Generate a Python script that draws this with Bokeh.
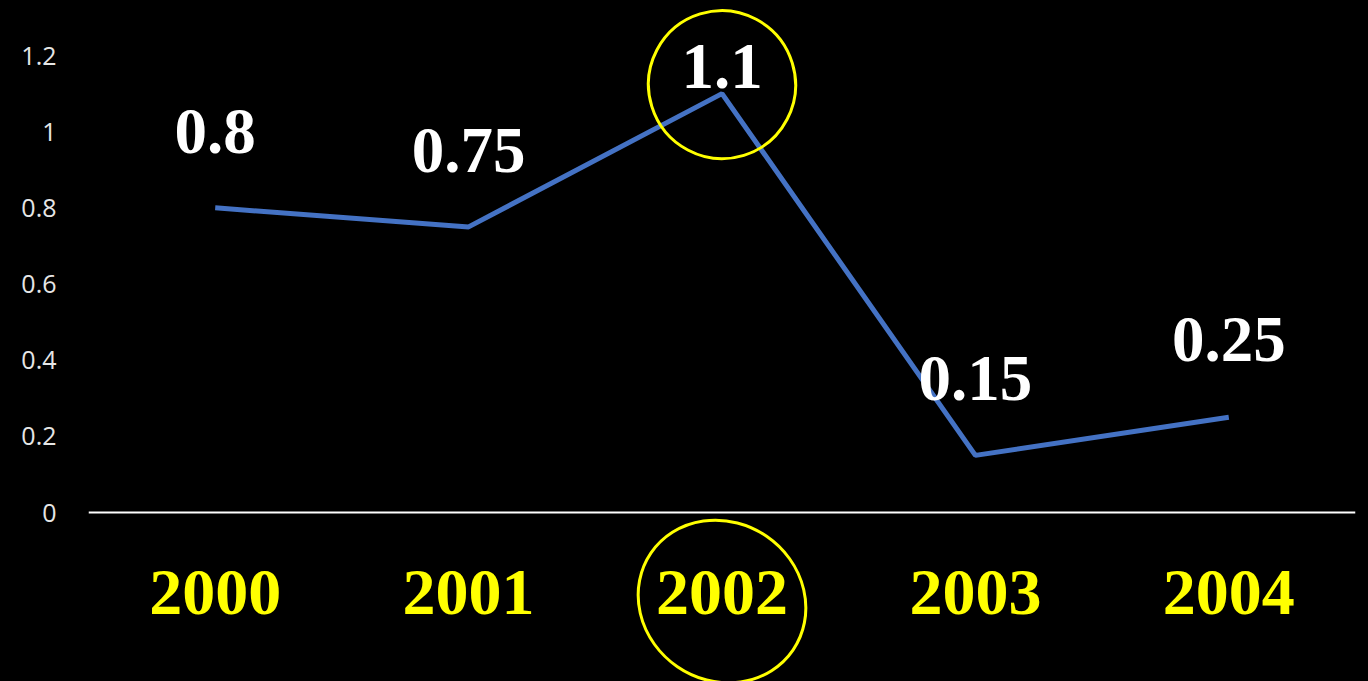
from bokeh.plotting import figure
from bokeh.models import FactorRange, Range1d, FixedTicker, ColumnDataSource
from bokeh.core.properties import value
from bokeh.embed import file_html
from bokeh.resources import INLINE

# ---- data ----
years = ["2000", "2001", "2002", "2003", "2004"]
values = [0.8, 0.75, 1.1, 0.15, 0.25]
value_labels = ["0.8", "0.75", "1.1", "0.15", "0.25"]
y_ticks = [0, 0.2, 0.4, 0.6, 0.8, 1, 1.2]
y_tick_labels = ["0", "0.2", "0.4", "0.6", "0.8", "1", "1.2"]

# ---- layout / style ----
label_offsets = [-76, -76, -27, -77, -78]   # pixels above the point (screen)
W, H = 1368, 681
zero_px = 512            # pixel row of y = 0
px_per_unit = 380.8
y_top = zero_px / px_per_unit
y_bottom = -(H - zero_px) / px_per_unit

p = figure(
    width=W, height=H,
    x_range=FactorRange(*years, range_padding=0),
    y_range=Range1d(y_bottom, y_top),
    output_backend="svg", toolbar_location=None,
    min_border_left=88, min_border_right=13, min_border_top=0, min_border_bottom=0,
)
p.background_fill_color = "black"
p.border_fill_color = "black"
p.outline_line_color = None
p.styles = {"background-color": "black"}
p.xgrid.visible = False
p.ygrid.visible = False

# y axis
yax = p.yaxis[0]
yax.ticker = FixedTicker(ticks=y_ticks)
yax.major_label_overrides = {t: l for t, l in zip(y_ticks, y_tick_labels)}
yax.axis_line_color = None
yax.major_tick_line_color = None
yax.minor_tick_line_color = None
yax.major_label_text_color = "#e6e6e6"
yax.major_label_text_font = "Open Sans"
yax.major_label_text_font_size = "25px"
yax.major_label_standoff = 26

# x axis placed at y = 0
xax = p.xaxis[0]
xax.fixed_location = 0
xax.axis_line_color = "white"
xax.axis_line_width = 2
xax.major_tick_line_color = None
xax.minor_tick_line_color = None
xax.major_label_text_color = "#FFFF00"
xax.major_label_text_font = "Liberation Serif"
xax.major_label_text_font_style = "bold"
xax.major_label_text_font_size = "66px"
xax.major_label_standoff = 52

# line
p.line(x=years, y=values, line_color="#4472C4", line_width=5)

# data labels
src = ColumnDataSource(dict(x=years, y=values, t=value_labels, off=label_offsets))
p.text(x="x", y="y", text="t", y_offset="off", source=src,
       text_align="center", text_baseline="alphabetic",
       text_color="white", text_font=value("Liberation Serif"),
       text_font_style="bold", text_font_size="65px")

# hand-drawn highlight circles
p.ellipse(x=[years[2]], y=[values[2] + 9 / px_per_unit], width=147, height=148,
          width_units="screen", height_units="screen", angle=0.3,
          fill_color=None, line_color="#FFFF00", line_width=3)
p.ellipse(x=[years[2]], y=[-(601 - zero_px) / px_per_unit], width=172, height=158,
          width_units="screen", height_units="screen", angle=-0.6,
          fill_color=None, line_color="#FFFF00", line_width=3)

open("out.html", "w").write(file_html(p, INLINE))
